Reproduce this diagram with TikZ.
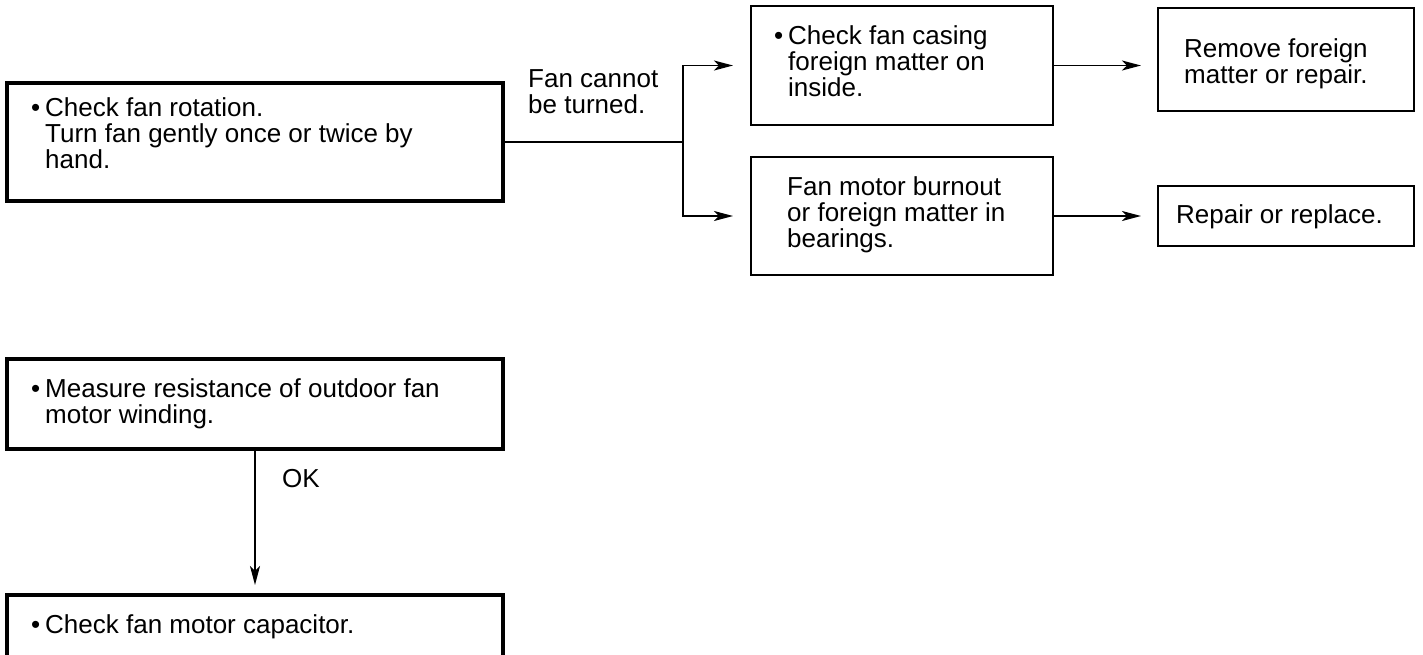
\documentclass[tikz,border=0pt]{standalone}
\usepackage{fontspec}
\setmainfont{Liberation Sans}
\usetikzlibrary{arrows.meta}
\newcommand{\ml}[1]{\begin{tabular}[t]{@{}l@{}}#1\end{tabular}}
\newcommand{\bul}{\llap{\textbullet\hspace{5pt}}}
\begin{document}
\begin{tikzpicture}[x=1pt,y=-1pt,
  thickbox/.style={draw, line width=4.5pt, inner sep=0pt, outer sep=0pt},
  thinbox/.style={draw, line width=2pt, inner sep=0pt, outer sep=0pt},
  txt/.style={anchor=base west, inner sep=0pt, font=\fontsize{26pt}{24.5pt}\selectfont},
  conn/.style={line width=1.6pt},
  arr/.style={conn, -{Stealth[length=19pt,width=10pt,inset=5pt]}}]
\useasboundingbox (0,0) rectangle (1423,654);
\clip (0,0) rectangle (1423,654);
% boxes
\node[thickbox, minimum width=496pt, minimum height=118pt] (b1) at (255,142) {};
\node[thinbox, minimum width=302pt, minimum height=119pt] (b2) at (902,65.5) {};
\node[thinbox, minimum width=302pt, minimum height=118pt] (b3) at (902,216) {};
\node[thinbox, minimum width=256pt, minimum height=103pt] (b4) at (1286,59.5) {};
\node[thinbox, minimum width=256pt, minimum height=60pt] (b5) at (1286,216) {};
\node[thickbox, minimum width=496pt, minimum height=90pt] (b6) at (255,404) {};
\node[thickbox, minimum width=496pt, minimum height=125pt] (b7) at (255,657.5) {};
% texts
\node[txt] (t1) at (45,116) {\ml{\bul Check fan rotation.\\Turn fan gently once or twice by\\hand.}};
\node[txt] (lab) at (528,87) {\ml{Fan cannot\\be turned.}};
\node[txt] (t2) at (788,44) {\ml{\bul Check fan casing\\foreign matter on\\inside.}};
\node[txt] (t3) at (787,195) {\ml{Fan motor burnout\\or foreign matter in\\bearings.}};
\node[txt] (t4) at (1184,57) {\ml{Remove foreign\\matter or repair.}};
\node[txt] (t5) at (1176,223) {Repair or replace.};
\node[txt] (t6) at (45,397) {\ml{\bul Measure resistance of outdoor fan\\motor winding.}};
\node[txt] (ok) at (282,487) {OK};
\node[txt] (t7) at (45,633) {\bul Check fan motor capacitor.};
% connectors
\coordinate (j) at (683,142);
\draw[conn] (b1.east) -- (j);
\draw[arr, shorten >=18pt] (j) |- (b2.west);
\draw[arr, shorten >=18pt] (j) |- (b3.west);
\draw[arr, shorten >=17pt] (b2.east) -- (b2.east -| b4.west);
\draw[arr, shorten >=17pt] (b3.east) -- (b5.west);
\draw[arr, shorten >=10pt] (b6.south) -- (b7.north);
\end{tikzpicture}
\end{document}
